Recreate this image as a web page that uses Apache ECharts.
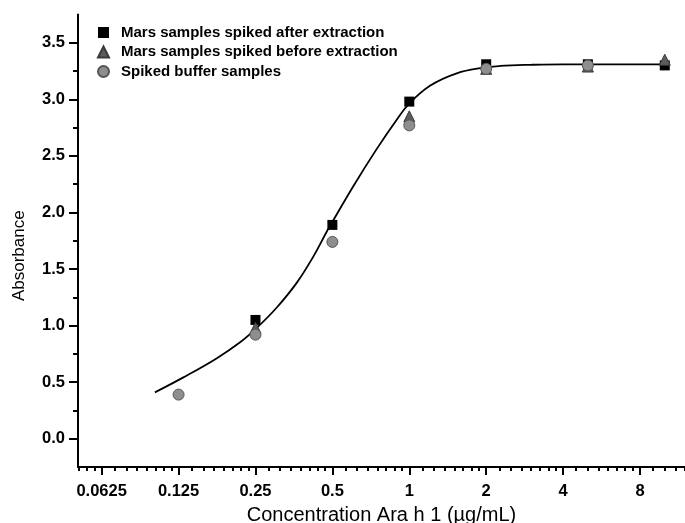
<!DOCTYPE html>
<html>
<head>
<meta charset="utf-8">
<script src="https://cdn.jsdelivr.net/npm/echarts@6/dist/echarts.min.js"></script>
<style>
  html, body { margin: 0; padding: 0; background: #fff; }
  #chart { width: 685px; height: 523px; }
</style>
</head>
<body>
<div id="chart"></div>
<script>
// tick values
const xTicks = [0.0625, 0.125, 0.25, 0.5, 1, 2, 4, 8]
const xTickLabels = ['0.0625', '0.125', '0.25', '0.5', '1', '2', '4', '8']
const yTicks = [0, 0.5, 1, 1.5, 2, 2.5, 3, 3.5]
const yMinorTicks = [0.25, 0.75, 1.25, 1.75, 2.25, 2.75, 3.25]

// measured points [concentration, absorbance]
const afterExtraction = [[0.25, 1.05], [0.5, 1.89], [1, 2.98], [2, 3.31], [5, 3.31], [10, 3.30]]
const beforeExtraction = [[0.25, 0.98], [1, 2.85], [2, 3.27], [5, 3.29], [10, 3.35]]
const bufferSamples = [[0.125, 0.39], [0.25, 0.92], [0.5, 1.74], [1, 2.77], [2, 3.27], [5, 3.30]]

// fitted curve
const fitCurve = [
  [0.101, 0.41], [0.130, 0.54], [0.176, 0.71], [0.217, 0.85], [0.253, 0.98],
  [0.303, 1.16], [0.363, 1.38], [0.421, 1.61], [0.475, 1.83], [0.489, 1.88],
  [0.603, 2.23], [0.745, 2.56], [0.893, 2.82], [0.997, 2.96], [1.205, 3.12],
  [1.533, 3.23], [1.948, 3.28], [2.265, 3.295], [2.969, 3.305], [4, 3.31],
  [6, 3.31], [10.2, 3.31]
]

// linear minor ticks inside each octave (Origin style)
const xMinorTicks = []
;[0.03125].concat(xTicks).forEach((a) => {
  for (let k = 1; k < 8; k++) xMinorTicks.push(a + (k * a) / 8)
})

const font = '"Liberation Sans", Arial, sans-serif'
const myChart = echarts.init(document.getElementById('chart'))

myChart.setOption({
  animation: false,
  backgroundColor: '#fff',
  textStyle: { fontFamily: font },
  grid: { left: 78, right: 0, top: 14.5, bottom: 56, containLabel: false, outerBoundsMode: 'none' },
  legend: {
    data: ['Mars samples spiked after extraction', 'Mars samples spiked before extraction', 'Spiked buffer samples'],
    orient: 'vertical',
    left: 97,
    top: 25,
    padding: 0,
    itemWidth: 11,
    itemHeight: 11,
    itemGap: 4.5,
    textStyle: { fontFamily: font, fontSize: 15, fontWeight: 'bold', color: '#000', padding: [0, 0, 0, 7] }
  },
  xAxis: [
    {
      type: 'log',
      logBase: 2,
      min: 0.0505,
      max: 12,
      name: 'Concentration Ara h 1 (µg/mL)',
      nameLocation: 'middle',
      nameGap: 38,
      nameTextStyle: { fontFamily: font, fontSize: 20, color: '#000' },
      axisLine: { onZero: false, lineStyle: { color: '#000', width: 2 } },
      axisTick: { customValues: xTicks, length: 8, lineStyle: { color: '#000', width: 2 } },
      axisLabel: {
        customValues: xTicks,
        margin: 16,
        color: '#000',
        fontSize: 16.5,
        fontWeight: 'bold',
        formatter: (v) => {
          const i = xTicks.findIndex((t) => Math.abs(t - v) < 1e-6)
          return i >= 0 ? xTickLabels[i] : ''
        }
      },
      splitLine: { show: false }
    },
    {
      type: 'log',
      logBase: 2,
      min: 0.0505,
      max: 12,
      position: 'bottom',
      axisLine: { show: false, onZero: false },
      axisTick: { customValues: xMinorTicks, length: 4, lineStyle: { color: '#000', width: 2 } },
      axisLabel: { show: false },
      splitLine: { show: false }
    }
  ],
  yAxis: [
    {
      type: 'value',
      min: -0.25,
      max: 3.75,
      interval: 0.25,
      name: 'Absorbance',
      nameLocation: 'middle',
      nameGap: 50,
      nameTextStyle: { fontFamily: font, fontSize: 17, color: '#000', padding: [0, 30, 0, 0] },
      axisLine: { show: true, onZero: false, lineStyle: { color: '#000', width: 2 } },
      axisTick: { show: true, customValues: yTicks, length: 9, lineStyle: { color: '#000', width: 2 } },
      axisLabel: {
        customValues: yTicks,
        margin: 13,
        color: '#000',
        fontSize: 16.5,
        fontWeight: 'bold',
        formatter: (v) => v.toFixed(1)
      },
      splitLine: { show: false }
    },
    {
      type: 'value',
      min: -0.25,
      max: 3.75,
      interval: 0.25,
      position: 'left',
      axisLine: { show: false, onZero: false },
      axisTick: { show: true, customValues: yMinorTicks, length: 5, lineStyle: { color: '#000', width: 2 } },
      axisLabel: { show: false },
      splitLine: { show: false }
    }
  ],
  series: [
    {
      name: 'fit',
      type: 'line',
      data: fitCurve,
      smooth: 0.4,
      symbol: 'none',
      lineStyle: { color: '#000', width: 1.8 },
      z: 1
    },
    {
      name: 'Mars samples spiked after extraction',
      type: 'scatter',
      data: afterExtraction,
      symbol: 'rect',
      symbolSize: 10,
      itemStyle: { color: '#000', opacity: 1 },
      z: 2
    },
    {
      name: 'Mars samples spiked before extraction',
      type: 'scatter',
      data: beforeExtraction,
      symbol: 'triangle',
      symbolSize: 11,
      itemStyle: { color: '#5c5c5c', borderColor: '#3a3a3a', borderWidth: 1, opacity: 1 },
      z: 3
    },
    {
      name: 'Spiked buffer samples',
      type: 'scatter',
      data: bufferSamples,
      symbol: 'circle',
      symbolSize: 11,
      itemStyle: { color: '#8e8e8e', borderColor: '#555', borderWidth: 1, opacity: 1 },
      z: 4
    }
  ]
})

window.addEventListener('resize', () => {
  myChart.resize()
})
</script>
</body>
</html>
